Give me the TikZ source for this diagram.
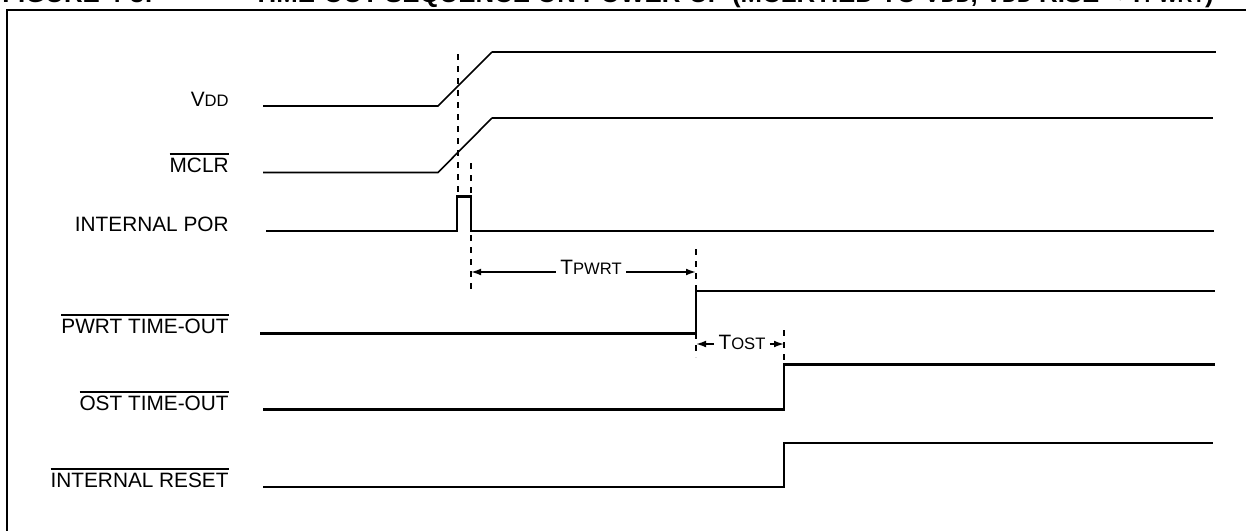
\documentclass[tikz,border=0pt]{standalone}
\usepackage{fontspec}
\setmainfont{Liberation Sans}
\usetikzlibrary{arrows.meta}
\newcommand\smc[1]{{\fontsize{8.3}{10}\selectfont #1}}
\newcommand\smcb[1]{{\fontsize{10.3}{12}\selectfont #1}}
\newcommand\ovbar[1]{\setbox0\hbox{#1}\rlap{\rule[\dimexpr\ht0+1.4pt\relax]{\wd0}{0.8pt}}\box0}
\begin{document}
\begin{tikzpicture}[x=0.5pt,y=-0.5pt,
  sig/.style={line width=1.1pt, line join=miter},
  thinsig/.style={line width=0.8pt, line join=miter},
  guide/.style={line width=0.8pt, dash pattern=on 3pt off 3pt},
  lbl/.style={anchor=base east, inner sep=0pt, font=\fontsize{10.4}{12}\selectfont},
  dimlbl/.style={anchor=base, inner sep=2pt, font=\fontsize{10.4}{12}\selectfont},
  dimarrow/.style={line width=0.8pt, -{Latex[length=5pt,width=3.4pt]}},
  ttl/.style={anchor=base west, inner sep=0pt, font=\bfseries\fontsize{12.9}{15}\selectfont}]
\useasboundingbox (0,0) rectangle (1246,530);
\clip (0,0) rectangle (1246,530);
% title (cropped at top, as in the reference)
\node[ttl] (fig) at (2,3) {FIGURE 4-3:};
\node[ttl] (title) at (253,3) {TIME-OUT SEQUENCE ON POWER-UP (\ovbar{MCLR} TIED TO V\smcb{DD}, V\smcb{DD} RISE < T\smcb{PWRT})};
% frame
\draw[line width=1pt] (7,560) -- (7,10) -- (1280,10);
% labels
\node[lbl] (lvdd) at (229,106) {V\smc{DD}};
\node[lbl] (lmclr) at (229,172) {\ovbar{MCLR}};
\node[lbl] (lpor) at (229,231) {INTERNAL POR};
\node[lbl] (lpwrt) at (229,333) {\ovbar{PWRT TIME-OUT}};
\node[lbl] (lost) at (229,410) {\ovbar{OST TIME-OUT}};
\node[lbl] (lres) at (229,487) {\ovbar{INTERNAL RESET}};
% VDD
\draw[thinsig] (263,106) -- (438,106) -- (492,52);
\draw[sig] (492,52) -- (1216,52);
% MCLR
\draw[thinsig] (263,172.5) -- (438,172.5) -- (492,118);
\draw[sig] (492,118) -- (1213,118);
% INTERNAL POR
\draw[sig] (266,231) -- (457,231) -- (457,196.5) -- (471,196.5) -- (471,231) -- (1214,231);
% PWRT TIME-OUT
\draw[sig] (260,333.5) -- (696,333.5) -- (696,291) -- (1215,291);
% OST TIME-OUT
\draw[sig] (263,409.5) -- (784,409.5) -- (784,364.5) -- (1215,364.5);
% INTERNAL RESET
\draw[sig] (263,487) -- (784,487) -- (784,443) -- (1213,443);
% guide lines
\coordinate (g1a) at (458,54);  \coordinate (g1b) at (458,196);
\coordinate (g2a) at (471,163); \coordinate (g2b) at (471,292);
\coordinate (g3a) at (696,249); \coordinate (g3b) at (696,357);
\coordinate (g4a) at (784,330); \coordinate (g4b) at (784,372);
\draw[guide] (g1a) -- (g1b);
\draw[guide] (g2a) -- (g2b);
\draw[guide] (g3a) -- (g3b);
\draw[guide] (g4a) -- (g4b);
% TPWRT
\coordinate (pA) at (471,272); \coordinate (pB) at (696,272);
\node[dimlbl] (tp) at (591,274.5) {T\smc{PWRT}};
\draw[dimarrow] (tp.west |- pA) -- (pA);
\draw[dimarrow] (tp.east |- pB) -- (pB);
% TOST
\coordinate (qA) at (696,344); \coordinate (qB) at (784,344);
\node[dimlbl] (to) at (742,349.5) {T\smc{OST}};
\draw[dimarrow] (to.west |- qA) -- (qA);
\draw[dimarrow] (to.east |- qB) -- (qB);
\end{tikzpicture}
\end{document}
